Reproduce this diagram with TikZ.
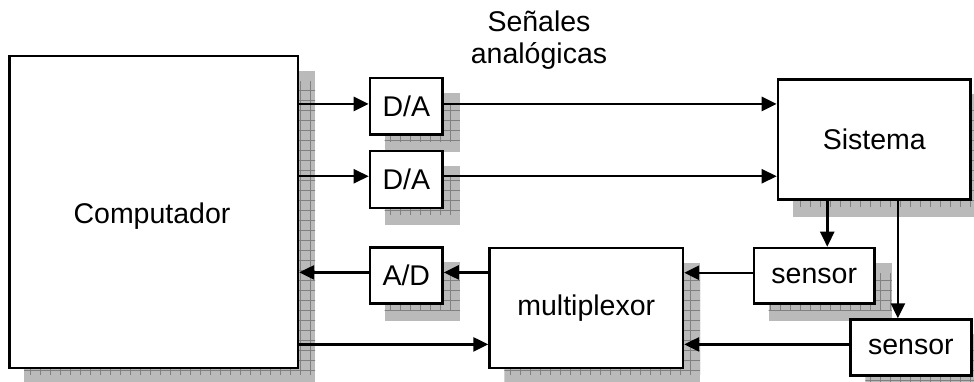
\documentclass[tikz,border=0pt]{standalone}
\usepackage{fontspec}
\setmainfont{Liberation Sans}
\usetikzlibrary{arrows.meta,backgrounds}
\tikzset{
  blk/.style={draw=black,line width=2.5pt,fill=white,anchor=north west,inner sep=0pt,
    font=\fontsize{28.5}{32}\selectfont},
  arr/.style={line width=2.5pt,-{Triangle[length=15pt,width=14pt]}},
  shfill/.style={fill=black!27},
  shgrid/.style={draw=black!50,line width=0.8pt}
}
\newcommand\boxshadow[1]{%
  \begin{scope}
    \clip ([shift={(16pt,-16pt)}]#1.north west) rectangle ([shift={(16pt,-16pt)}]#1.south east);
    \fill[shfill] ([shift={(16pt,-16pt)}]#1.north west) rectangle ([shift={(16pt,-16pt)}]#1.south east);
    \draw[shgrid,step=10pt] ([shift={(6pt,-26pt)}]#1.north west) grid ([shift={(26pt,-6pt)}]#1.south east);
  \end{scope}}
\begin{document}
\begin{tikzpicture}[x=1pt,y=-1pt]
\useasboundingbox (0,0) rectangle (974,382);
\node[blk,minimum width=288.7pt,minimum height=312pt] (comp) at (8,54.7) {};
\node[font=\fontsize{28.5}{32}\selectfont] (comptext) at (152,216) {Computador};
\node[blk,minimum width=72.6pt,minimum height=56.6pt] (da1) at (368.7,76.7) {D/A};
\node[blk,minimum width=72.6pt,minimum height=56.6pt] (da2) at (368.7,150) {D/A};
\node[blk,minimum width=72.6pt,minimum height=56.3pt] (ad) at (368.7,246) {A/D};
\node[blk,minimum width=193.4pt,minimum height=120pt] (mux) at (488.3,246.7) {multiplexor};
\node[blk,minimum width=192.6pt,minimum height=120pt] (sis) at (776.7,78.3) {Sistema};
\node[blk,minimum width=120.6pt,minimum height=55.6pt] (s1) at (752.7,246.7) {sensor};
\node[blk,minimum width=120.7pt,minimum height=55.7pt] (s2) at (849.3,318.3) {sensor};
\node[align=center,anchor=base,font=\fontsize{28.5}{32}\selectfont] (lbl) at (539,63.3) {Señales\\analógicas};
\begin{scope}[on background layer]
  \boxshadow{comp}\boxshadow{da1}\boxshadow{da2}\boxshadow{ad}
  \boxshadow{mux}\boxshadow{sis}\boxshadow{s1}\boxshadow{s2}
\end{scope}
\coordinate (p1) at ([yshift=2.3pt]da1.west);
\coordinate (q1) at ([yshift=2.3pt]da1.east);
\coordinate (p2) at ([yshift=3.3pt]da2.west);
\coordinate (q2) at ([yshift=3.3pt]da2.east);
\coordinate (pa) at ([yshift=3pt]ad.west);
\coordinate (qa) at ([yshift=3pt]ad.east);
\coordinate (r1) at ([yshift=3pt]s1.west);
\coordinate (r2) at ([yshift=3pt]s2.west);
\coordinate (t1) at ([xshift=13pt]s1.north);
\coordinate (t2) at ([xshift=-13pt]s2.north);
\draw[arr] (comp.east |- p1) -- (p1);
\draw[arr] (comp.east |- p2) -- (p2);
\draw[arr] (q1) -- (q1 -| sis.west);
\draw[arr] (q2) -- (q2 -| sis.west);
\draw[arr] (qa -| mux.west) -- (qa);
\draw[arr] (pa) -- (pa -| comp.east);
\draw[arr] (comp.east |- r2) -- (mux.west |- r2);
\draw[arr] (r1) -- (r1 -| mux.east);
\draw[arr] (r2) -- (r2 -| mux.east);
\draw[arr] (sis.south -| t1) -- (t1);
\draw[arr] (sis.south -| t2) -- (t2);
\end{tikzpicture}
\end{document}
